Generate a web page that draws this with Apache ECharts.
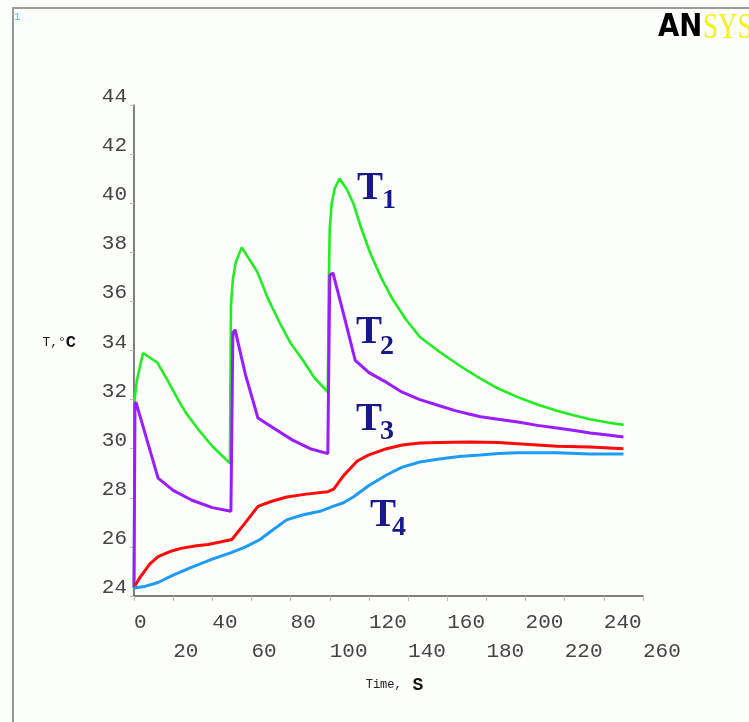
<!DOCTYPE html>
<html>
<head>
<meta charset="utf-8">
<title>T, °C vs Time</title>
<script src="https://cdn.jsdelivr.net/npm/echarts@6/dist/echarts.min.js"></script>
<style>
  html, body { margin: 0; padding: 0; background: #fcfefc; }
  #chart { width: 749px; height: 722px; }
</style>
</head>
<body>
<div id="chart"></div>
<script>
// time (s) and temperature (°C), one pair of arrays per curve
var t1Time = [0, 0.3, 1.5, 4.6, 12, 17, 22.5, 27, 32.7, 40, 49,
  49.5, 50.5, 52, 55, 59, 63, 68.5, 74.6, 80, 86.3, 92, 99,
  99.5, 100, 101, 102.5, 105, 108.5, 112, 116, 120.5, 126, 132, 139, 146, 156, 166, 177, 186, 196, 206, 216, 225, 233, 242, 250];
var t1Temp = [24.3, 32.0, 32.8, 33.9, 33.5, 32.8, 32.0, 31.4, 30.8, 30.1, 29.4,
  35.8, 36.9, 37.6, 38.2, 37.7, 37.2, 36.1, 35.1, 34.3, 33.6, 32.9, 32.3,
  36.8, 39.0, 40.0, 40.6, 41.0, 40.6, 40.0, 39.0, 38.0, 37.0, 36.1, 35.25, 34.55, 33.95, 33.4, 32.85, 32.45, 32.1, 31.8, 31.55, 31.35, 31.2, 31.07, 30.97];

var t2Time = [0, 0.5, 1, 12.3, 20, 29.6, 40, 49.5,
  50.5, 51.6, 57, 63.3, 72, 81, 90, 99,
  100, 101.6, 107, 113, 120, 129, 137, 146, 156, 164, 171.6, 177, 186, 196, 206, 216, 225, 233, 242, 250];
var t2Temp = [24.35, 31.8, 31.9, 28.8, 28.3, 27.9, 27.6, 27.45,
  34.7, 34.85, 33.0, 31.25, 30.8, 30.35, 30.0, 29.8,
  37.07, 37.16, 35.5, 33.6, 33.1, 32.7, 32.3, 32.0, 31.75, 31.55, 31.4, 31.3, 31.2, 31.09, 30.95, 30.84, 30.74, 30.64, 30.56, 30.48];

var t3Time = [0, 3, 8, 12.3, 18, 24.5, 32, 37.8, 44, 50, 57, 63.3, 70, 78, 88, 99, 102, 107, 114, 120, 129, 137, 146, 156, 171.6, 186, 196, 206, 216, 233, 250];
var t3Temp = [24.35, 24.75, 25.3, 25.6, 25.8, 25.95, 26.05, 26.1, 26.2, 26.3, 27.0, 27.65, 27.85, 28.03, 28.15, 28.25, 28.35, 28.9, 29.5, 29.75, 30.0, 30.15, 30.23, 30.25, 30.27, 30.25, 30.2, 30.15, 30.1, 30.07, 30.0];

var t4Time = [0, 6, 12.3, 20, 29.6, 40, 50, 57, 64.4, 71, 78, 86, 95, 101.6, 107, 112, 120, 129, 137, 146, 156, 166, 177, 186, 196, 216, 233, 250];
var t4Temp = [24.33, 24.4, 24.55, 24.85, 25.18, 25.5, 25.78, 26.0, 26.3, 26.7, 27.1, 27.3, 27.45, 27.65, 27.8, 28.03, 28.5, 28.93, 29.25, 29.46, 29.58, 29.68, 29.74, 29.8, 29.83, 29.83, 29.78, 29.78];

var seriesNames = ['T1', 'T2', 'T3', 'T4'];
var subscripts = ['1', '2', '3', '4'];

function pairs(xs, ys) {
    return xs.map(function (x, i) { return [x, ys[i]]; });
}

var chart = echarts.init(document.getElementById('chart'));

var labelColor = '#18188c';
var tickFont = '"Liberation Mono", "DejaVu Sans Mono", monospace';

// T_n annotations: big serif T with a lowered digit
var tagPos = [
    { x: 357, y: 189, sx: 382, sy: 202 },
    { x: 356, y: 333, sx: 380, sy: 348 },
    { x: 356, y: 420, sx: 380, sy: 433 },
    { x: 370, y: 516, sx: 392, sy: 529 }
];
var tags = [];
tagPos.forEach(function (p, i) {
    tags.push({
        type: 'text', left: p.x, top: p.y - 20, z: 10,
        style: { text: 'T', font: 'bold 39px "Liberation Serif", serif', fill: labelColor }
    });
    tags.push({
        type: 'text', left: p.sx, top: p.sy - 15, z: 10,
        style: { text: subscripts[i], font: 'bold 28px "Liberation Serif", serif', fill: labelColor }
    });
});

var option = {
    backgroundColor: '#fcfefc',
    animation: false,
    grid: { left: 134, top: 105, width: 509, height: 491, containLabel: false },
    xAxis: {
        type: 'value',
        min: 0,
        max: 260,
        interval: 20,
        name: '{a|Time,}{b| S}',
        nameLocation: 'middle',
        nameGap: 80,
        nameTextStyle: {
            padding: [0, 0, 0, 12],
            rich: {
                a: { fontFamily: tickFont, fontSize: 12, color: '#222' },
                b: { fontFamily: tickFont, fontSize: 18, fontWeight: 'bold', color: '#111' }
            }
        },
        axisLine: { lineStyle: { color: '#555', width: 1.5 } },
        axisTick: { length: 5, lineStyle: { color: '#bbb' } },
        axisLabel: {
            align: 'left',
            verticalAlign: 'top',
            margin: 12,
            lineHeight: 29,
            fontFamily: tickFont,
            fontSize: 21,
            color: '#444',
            showMaxLabel: true,
            showMinLabel: true,
            formatter: function (v) {
                // every other label drops to a second row
                return (v / 20) % 2 === 1 ? '\n' + v : '' + v;
            }
        },
        splitLine: { show: false }
    },
    yAxis: {
        type: 'value',
        min: 24,
        max: 44,
        interval: 2,
        name: '{a|T,°}{b|C}',
        nameLocation: 'middle',
        nameRotate: 0,
        nameGap: 58,
        nameTextStyle: {
            padding: [0, 0, 16, 0],
            rich: {
                a: { fontFamily: tickFont, fontSize: 13, color: '#222' },
                b: { fontFamily: tickFont, fontSize: 17, fontWeight: 'bold', color: '#111' }
            }
        },
        axisLine: { lineStyle: { color: '#555', width: 1.5 } },
        axisTick: { length: 4, lineStyle: { color: '#bbb' } },
        axisLabel: {
            verticalAlign: 'bottom',
            margin: 7,
            padding: [0, 0, -2, 0],
            fontFamily: tickFont,
            fontSize: 21,
            color: '#444'
        },
        splitLine: { show: false }
    },
    series: [
        { name: seriesNames[0], type: 'line', data: pairs(t1Time, t1Temp), showSymbol: false, lineStyle: { color: '#1fee1f', width: 2.6 } },
        { name: seriesNames[1], type: 'line', data: pairs(t2Time, t2Temp), showSymbol: false, lineStyle: { color: '#9a1cff', width: 3 } },
        { name: seriesNames[2], type: 'line', data: pairs(t3Time, t3Temp), showSymbol: false, lineStyle: { color: '#ff0a0a', width: 3 } },
        { name: seriesNames[3], type: 'line', data: pairs(t4Time, t4Temp), showSymbol: false, lineStyle: { color: '#1e9cf5', width: 3 } }
    ],
    graphic: [
        // frame of the plot window
        { type: 'rect', shape: { x: 13, y: 8, width: 800, height: 800 }, style: { fill: 'none', stroke: '#9a9a9a', lineWidth: 2 } },
        { type: 'text', left: 14, top: 12, style: { text: '1', font: '11px "Liberation Mono", monospace', fill: '#18d8f0' } },
        { type: 'text', x: 658, y: 12, scaleX: 0.86, style: { text: 'AN', font: 'bold 32px "DejaVu Sans", sans-serif', fill: '#000' } },
        { type: 'text', x: 703, y: 11, scaleX: 0.75, style: { text: 'SYS', font: '36px "Liberation Serif", serif', fill: '#f2f21a' } }
    ].concat(tags)
};

chart.setOption(option);
</script>
</body>
</html>
